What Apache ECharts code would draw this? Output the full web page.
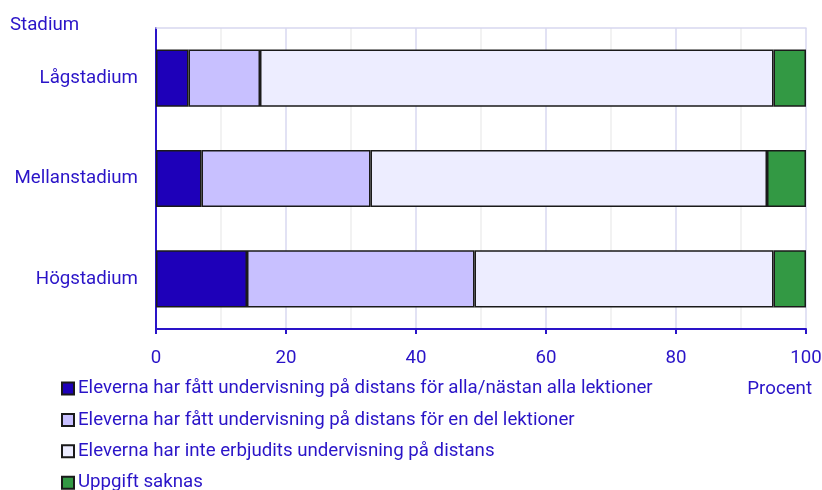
<!DOCTYPE html>
<html>
<head>
  <meta charset="utf-8">
  <script src="https://cdn.jsdelivr.net/npm/echarts@6/dist/echarts.min.js"></script>
  <style>
    body { margin: 0; background: #fff; }
    #chart { width: 822px; height: 490px; }
  </style>
</head>
<body>
  <div id="chart"></div>
  <script>
    const categories = ['Lågstadium', 'Mellanstadium', 'Högstadium'];
    const seriesNames = [
      'Eleverna har fått undervisning på distans för alla/nästan alla lektioner',
      'Eleverna har fått undervisning på distans för en del lektioner',
      'Eleverna har inte erbjudits undervisning på distans',
      'Uppgift saknas'
    ];
    const allLessons = [5, 7, 14];
    const someLessons = [11, 26, 35];
    const notOffered = [79, 61, 46];
    const missing = [5, 6, 5];
    const colors = ['#1e00b9', '#c8c0ff', '#ededff', '#339944'];

    const textColor = '#2a14c8';
    const font = 'Roboto';
    const fs = 18.7;

    const chart = echarts.init(document.getElementById('chart'));

    const values = [allLessons, someLessons, notOffered, missing];

    chart.setOption({
      animation: false,
      textStyle: { fontFamily: font },
      grid: { left: 156, right: 16, top: 28, bottom: 161, outerBoundsMode: 'none', containLabel: false },
      legend: {
        orient: 'horizontal',
        left: 61,
        top: 379,
        padding: 0,
        width: 200,
        itemWidth: 12,
        itemHeight: 12,
        itemGap: 12.4,
        icon: 'rect',
        textStyle: { color: textColor, fontSize: fs, fontFamily: font, padding: [0, 0, 0, -1] },
        data: seriesNames
      },
      xAxis: [{
        type: 'value',
        min: 0,
        max: 100,
        interval: 20,
        axisLine: { show: true, lineStyle: { color: textColor, width: 2 } },
        axisTick: { show: true, length: 5, lineStyle: { color: textColor, width: 2 } },
        axisLabel: { color: textColor, fontSize: fs, margin: 20 },
        splitLine: { show: true, lineStyle: { color: '#d8d8f0', width: 1.5 } },
        minorTick: { show: false, splitNumber: 2 },
        minorSplitLine: { show: true, lineStyle: { color: '#eeeeee', width: 1.5 } }
      }, {
        type: 'value',
        position: 'top',
        min: 0,
        max: 100,
        axisLine: { show: true, lineStyle: { color: '#d8d8f0', width: 1.5 } },
        axisTick: { show: false },
        axisLabel: { show: false },
        splitLine: { show: false }
      }],
      yAxis: {
        type: 'category',
        inverse: true,
        data: categories,
        axisLine: { show: true, lineStyle: { color: textColor, width: 2 } },
        axisTick: { show: false },
        axisLabel: { color: textColor, fontSize: fs, margin: 18, padding: [4, 0, 0, 0] }
      },
      graphic: [
        { type: 'text', left: 10, top: 16, style: { text: 'Stadium', fill: textColor, font: fs + 'px Roboto' } },
        { type: 'text', right: 10, top: 380, style: { text: 'Procent', fill: textColor, font: fs + 'px Roboto' } }
      ],
      series: seriesNames.map((name, i) => ({
        name,
        type: 'bar',
        stack: 'total',
        barWidth: '57%',
        data: values[i],
        itemStyle: { color: colors[i], borderColor: '#1a1a1a', borderWidth: 1.5 }
      }))
    });
  </script>
</body>
</html>
